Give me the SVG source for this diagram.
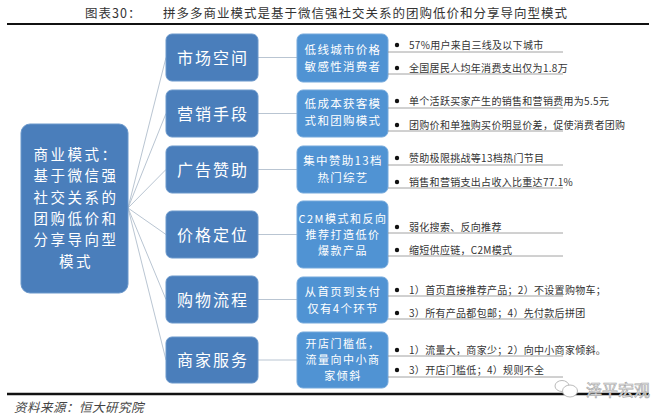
<svg xmlns="http://www.w3.org/2000/svg" width="655" height="419" viewBox="0 0 655 419">
<style>
text{font-family:"Noto Sans CJK SC","Noto Sans",sans-serif}
.hd{font-size:12.5px;fill:#333;letter-spacing:1px}
.main{fill:#4a7ebb;stroke:#6b98cb;stroke-width:1}
.mid{fill:#4a7ebb;stroke:#6b98cb;stroke-width:1}
.rt{fill:#5093d3;stroke:#74a9dc;stroke-width:1}
.mt{font-size:14.5px;fill:#fff;text-anchor:middle;letter-spacing:2.5px}
.ct{font-size:16px;fill:#fff;text-anchor:middle;letter-spacing:2px}
.rtt{font-size:11.5px;fill:#fff;text-anchor:middle;letter-spacing:1.3px}
.rt3{font-size:11px;fill:#fff;text-anchor:middle;letter-spacing:1.5px}
.bt{font-size:10px;fill:#333;letter-spacing:0.3px}
.ul{stroke:#8a8a8a;stroke-width:0.8}
.dot{fill:#111}
.con line{stroke:#b9c5d2;stroke-width:1}
</style>
<rect width="655" height="419" fill="#fff"/>
<text class="hd" x="85" y="18">图表30：</text>
<text class="hd" x="163" y="18">拼多多商业模式是基于微信强社交关系的团购低价和分享导向型模式</text>
<line x1="7" y1="24" x2="649" y2="24" stroke="#111" stroke-width="2"/>

<g id="connectors" class="con">
<line x1="128" y1="208" x2="166" y2="57.5"/>
<line x1="128" y1="208" x2="166" y2="113.5"/>
<line x1="128" y1="208" x2="166" y2="169.5"/>
<line x1="128" y1="208" x2="166" y2="234.5"/>
<line x1="128" y1="208" x2="166" y2="299.5"/>
<line x1="128" y1="208" x2="166" y2="360"/>
<line x1="258" y1="57.5" x2="297" y2="57.5"/>
<line x1="258" y1="113.5" x2="297" y2="113.5"/>
<line x1="258" y1="169.5" x2="297" y2="169.5"/>
<line x1="258" y1="234.5" x2="297" y2="234.5"/>
<line x1="258" y1="299.5" x2="297" y2="299.5"/>
<line x1="258" y1="360" x2="297" y2="360"/>
</g>

<g id="main">
<rect class="main" x="21" y="124" width="107" height="169" rx="9"/>
<text class="mt" x="76" y="160">商业模式：</text>
<text class="mt" x="76" y="181.3">基于微信强</text>
<text class="mt" x="76" y="202.6">社交关系的</text>
<text class="mt" x="76" y="223.9">团购低价和</text>
<text class="mt" x="76" y="245.2">分享导向型</text>
<text class="mt" x="76" y="266.5">模式</text>
</g>

<g id="cat1"><rect class="mid" x="166" y="34" width="92" height="47" rx="6"/><text class="ct" x="213" y="63.5">市场空间</text></g>
<g id="cat2"><rect class="mid" x="166" y="90" width="92" height="47" rx="6"/><text class="ct" x="213" y="119.5">营销手段</text></g>
<g id="cat3"><rect class="mid" x="166" y="146" width="92" height="47" rx="6"/><text class="ct" x="213" y="175.5">广告赞助</text></g>
<g id="cat4"><rect class="mid" x="166" y="211" width="92" height="47" rx="6"/><text class="ct" x="213" y="240.5">价格定位</text></g>
<g id="cat5"><rect class="mid" x="166" y="276" width="92" height="47" rx="6"/><text class="ct" x="213" y="305.5">购物流程</text></g>
<g id="cat6"><rect class="mid" x="166" y="337" width="92" height="46" rx="6"/><text class="ct" x="213" y="366">商家服务</text></g>

<g id="desc1">
<rect class="rt" x="297" y="34" width="91" height="48" rx="6"/>
<text class="rtt" x="343" y="54">低线城市价格</text>
<text class="rtt" x="343" y="71">敏感性消费者</text>
<circle class="dot" cx="397" cy="45" r="2.2"/><text class="bt" x="409" y="48.5">57%用户来自三线及以下城市</text><line class="ul" x1="388" y1="52" x2="563" y2="52"/>
<circle class="dot" cx="397" cy="68" r="2.2"/><text class="bt" x="409" y="71.5">全国居民人均年消费支出仅为1.8万</text><line class="ul" x1="388" y1="74" x2="563" y2="74"/>
</g>

<g id="desc2">
<rect class="rt" x="297" y="90" width="91" height="47" rx="6"/>
<text class="rtt" x="343" y="108">低成本获客模</text>
<text class="rtt" x="343" y="125">式和团购模式</text>
<circle class="dot" cx="397" cy="101" r="2.2"/><text class="bt" x="409" y="104.5">单个活跃买家产生的销售和营销费用为5.5元</text><line class="ul" x1="388" y1="108" x2="563" y2="108"/>
<circle class="dot" cx="397" cy="125" r="2.2"/><text class="bt" x="409" y="128.5">团购价和单独购买价明显价差，促使消费者团购</text><line class="ul" x1="388" y1="131" x2="563" y2="131"/>
</g>

<g id="desc3">
<rect class="rt" x="297" y="146" width="91" height="47" rx="6"/>
<text class="rtt" x="343" y="165">集中赞助13档</text>
<text class="rtt" x="343" y="182">热门综艺</text>
<circle class="dot" cx="397" cy="158" r="2.2"/><text class="bt" x="409" y="161.5">赞助极限挑战等13档热门节目</text><line class="ul" x1="388" y1="165" x2="563" y2="165"/>
<circle class="dot" cx="397" cy="182" r="2.2"/><text class="bt" x="409" y="185.5">销售和营销支出占收入比重达77.1%</text><line class="ul" x1="388" y1="188" x2="563" y2="188"/>
</g>

<g id="desc4">
<rect class="rt" x="297" y="201" width="91" height="67" rx="6"/>
<text class="rt3" x="343" y="222.5">C2M模式和反向</text>
<text class="rt3" x="343" y="238.5">推荐打造低价</text>
<text class="rt3" x="343" y="254.5">爆款产品</text>
<circle class="dot" cx="397" cy="227" r="2.2"/><text class="bt" x="409" y="230.5">弱化搜索、反向推荐</text><line class="ul" x1="388" y1="233" x2="563" y2="233"/>
<circle class="dot" cx="397" cy="250" r="2.2"/><text class="bt" x="409" y="253.5">缩短供应链，C2M模式</text><line class="ul" x1="388" y1="256" x2="563" y2="256"/>
</g>

<g id="desc5">
<rect class="rt" x="297" y="277" width="91" height="46" rx="6"/>
<text class="rtt" x="343" y="295.5">从首页到支付</text>
<text class="rtt" x="343" y="312.5">仅有4个环节</text>
<circle class="dot" cx="397" cy="290" r="2.2"/><text class="bt" x="409" y="293.5">1）首页直接推荐产品；2）不设置购物车；</text><line class="ul" x1="388" y1="296" x2="563" y2="296"/>
<circle class="dot" cx="397" cy="313" r="2.2"/><text class="bt" x="409" y="316.5">3）所有产品都包邮；4）先付款后拼团</text><line class="ul" x1="388" y1="319" x2="563" y2="319"/>
</g>

<g id="desc6">
<rect class="rt" x="297" y="332" width="91" height="56" rx="6"/>
<text class="rt3" x="343" y="348">开店门槛低，</text>
<text class="rt3" x="343" y="364">流量向中小商</text>
<text class="rt3" x="343" y="380">家倾斜</text>
<circle class="dot" cx="397" cy="350" r="2.2"/><text class="bt" x="409" y="353.5">1）流量大，商家少；2）向中小商家倾斜。</text><line class="ul" x1="388" y1="356" x2="563" y2="356"/>
<circle class="dot" cx="397" cy="370" r="2.2"/><text class="bt" x="409" y="373.5">3）开店门槛低；4）规则不全</text><line class="ul" x1="388" y1="377" x2="563" y2="377"/>
</g>

<line x1="7" y1="394" x2="649" y2="394" stroke="#111" stroke-width="2.5"/>
<g id="watermark">
<ellipse cx="562" cy="386" rx="7" ry="5.5" fill="#fff" stroke="#bbb" stroke-width="1"/>
<ellipse cx="570" cy="391" rx="7.5" ry="6" fill="#fff" stroke="#bbb" stroke-width="1"/>
<text x="586" y="396" font-size="16" fill="#fff" stroke="#aaa" stroke-width="0.7">泽平宏观</text>
</g>
<text x="14" y="412" font-size="12.5" font-style="italic" fill="#444" letter-spacing="0.5">资料来源：恒大研究院</text>
</svg>
